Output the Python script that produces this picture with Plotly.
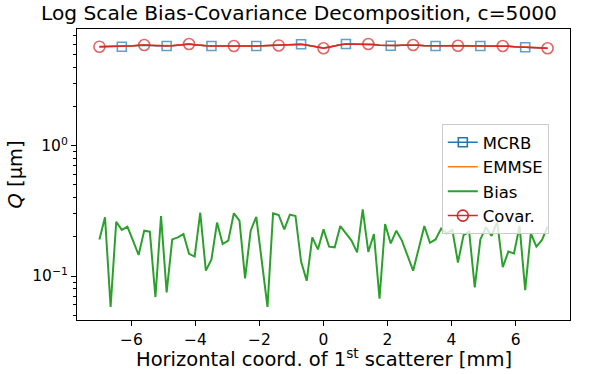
import numpy as np
import plotly.graph_objects as go

# horizontal coordinate of the first scatterer [mm]
x_mm = np.linspace(-7, 7, 81)

mcrb = [
    5.75, 5.76, 5.76, 5.76, 5.75, 5.78, 5.83, 5.88,
    5.92, 5.89, 5.85, 5.83, 5.82, 5.85, 5.90, 5.96,
    6.02, 5.96, 5.88, 5.84, 5.82, 5.83, 5.82, 5.82,
    5.82, 5.83, 5.82, 5.82, 5.82, 5.84, 5.86, 5.87,
    5.88, 5.91, 5.95, 5.98, 6.00, 5.93, 5.81, 5.69,
    5.61, 5.71, 5.85, 5.96, 6.03, 6.03, 6.02, 6.03,
    6.02, 5.97, 5.91, 5.87, 5.85, 5.86, 5.89, 5.91,
    5.92, 5.89, 5.85, 5.83, 5.82, 5.83, 5.84, 5.85,
    5.85, 5.84, 5.83, 5.82, 5.82, 5.83, 5.82, 5.82,
    5.81, 5.79, 5.75, 5.72, 5.69, 5.67, 5.64, 5.61,
    5.60,
]

emmse = [
    5.76, 5.77, 5.78, 5.77, 5.76, 5.79, 5.85, 5.89,
    5.92, 5.90, 5.86, 5.84, 5.83, 5.86, 5.91, 5.96,
    6.01, 5.95, 5.89, 5.85, 5.83, 5.84, 5.83, 5.83,
    5.83, 5.84, 5.83, 5.83, 5.83, 5.85, 5.87, 5.88,
    5.89, 5.92, 5.95, 5.98, 5.99, 5.91, 5.81, 5.70,
    5.62, 5.72, 5.86, 5.96, 6.02, 6.02, 6.01, 6.02,
    6.01, 5.96, 5.91, 5.88, 5.86, 5.87, 5.89, 5.91,
    5.92, 5.89, 5.86, 5.84, 5.83, 5.84, 5.85, 5.86,
    5.86, 5.85, 5.84, 5.83, 5.83, 5.84, 5.83, 5.83,
    5.82, 5.80, 5.76, 5.73, 5.70, 5.68, 5.65, 5.62,
    5.61,
]

bias = [
    0.191, 0.282, 0.058, 0.261, 0.226, 0.239, 0.187, 0.145, 0.223, 0.219,
    0.069, 0.289, 0.075, 0.191, 0.198, 0.210, 0.148, 0.141, 0.306, 0.110,
    0.134, 0.257, 0.176, 0.187, 0.303, 0.266, 0.096, 0.223, 0.285, 0.128,
    0.058, 0.303, 0.294, 0.228, 0.296, 0.289, 0.129, 0.092, 0.198, 0.160,
    0.228, 0.168, 0.166, 0.242, 0.213, 0.187, 0.152, 0.325, 0.153, 0.210,
    0.067, 0.251, 0.178, 0.223, 0.187, 0.143, 0.110, 0.163, 0.242, 0.180,
    0.191, 0.231, 0.213, 0.226, 0.127, 0.206, 0.219, 0.082, 0.191, 0.237,
    0.203, 0.260, 0.117, 0.154, 0.149, 0.242, 0.078, 0.213, 0.168, 0.189,
    0.239,
]

covar = [
    5.75, 5.76, 5.77, 5.76, 5.75, 5.78, 5.84, 5.89,
    5.93, 5.89, 5.85, 5.83, 5.82, 5.85, 5.90, 5.97,
    6.03, 5.96, 5.88, 5.84, 5.82, 5.83, 5.82, 5.82,
    5.82, 5.83, 5.82, 5.82, 5.82, 5.84, 5.86, 5.87,
    5.88, 5.91, 5.95, 5.98, 6.00, 5.92, 5.80, 5.68,
    5.59, 5.70, 5.85, 5.96, 6.03, 6.03, 6.02, 6.03,
    6.03, 5.97, 5.91, 5.87, 5.85, 5.86, 5.89, 5.91,
    5.93, 5.89, 5.85, 5.83, 5.82, 5.83, 5.84, 5.85,
    5.85, 5.84, 5.83, 5.82, 5.82, 5.83, 5.82, 5.82,
    5.82, 5.79, 5.75, 5.72, 5.69, 5.67, 5.64, 5.61,
    5.59,
]

FONT = "DejaVu Sans"
BLUE, ORANGE, GREEN, RED = "#1f77b4", "#ff7f0e", "#2ca02c", "#d62728"

# markevery=8 style: squares offset by 4, circles on every 8th point
idx = np.arange(len(x_mm))
sq_size = np.where(idx % 8 == 4, 9, 0)
ci_size = np.where(idx % 8 == 0, 11, 0)

fig = go.Figure()
fig.add_trace(go.Scatter(
    x=x_mm, y=mcrb, mode="lines+markers", showlegend=False,
    line=dict(color=BLUE, width=1.5),
    marker=dict(symbol="square-open", size=sq_size, color=BLUE, line=dict(width=1.6)),
))
fig.add_trace(go.Scatter(
    x=x_mm, y=emmse, mode="lines", showlegend=False,
    line=dict(color=ORANGE, width=1.5),
))
fig.add_trace(go.Scatter(
    x=x_mm, y=bias, mode="lines", showlegend=False,
    line=dict(color=GREEN, width=2),
))
fig.add_trace(go.Scatter(
    x=x_mm, y=covar, mode="lines+markers", showlegend=False,
    line=dict(color=RED, width=1.5),
    marker=dict(symbol="circle-open", size=ci_size, color=RED, line=dict(width=1.6)),
))

# legend entries (empty traces so the legend keeps fixed marker sizes)
legend_items = [
    ("MCRB", BLUE, "lines+markers", "square-open", 9),
    ("EMMSE", ORANGE, "lines", None, 0),
    ("Bias", GREEN, "lines", None, 0),
    ("Covar.", RED, "lines+markers", "circle-open", 11),
]
for name, col, mode, sym, size in legend_items:
    fig.add_trace(go.Scatter(
        x=[None], y=[None], name=name, mode=mode,
        line=dict(color=col, width=2 if name == "Bias" else 1.5),
        marker=dict(symbol=sym or "circle", size=size, color=col, line=dict(width=1.6)),
    ))

fig.update_layout(
    width=598, height=374,
    margin=dict(l=77, r=28, t=29, b=54, autoexpand=False),
    paper_bgcolor="white", plot_bgcolor="white",
    font=dict(family=FONT, size=15.5, color="black"),
    title=dict(
        text="Log Scale Bias-Covariance Decomposition, c=5000",
        font=dict(size=20.2), x=0.5, xref="container", xanchor="center",
        y=1 - 13 / 374, yref="container", yanchor="middle",
    ),
    showlegend=True,
    legend=dict(
        x=0.74, xanchor="left", y=0.6735, yanchor="top",
        bgcolor="rgba(255,255,255,0.8)", bordercolor="#cccccc", borderwidth=1,
        font=dict(size=16.5),
    ),
    annotations=[
        dict(text="Horizontal coord. of 1<sup>st</sup> scatterer [mm]",
             xref="paper", yref="paper", x=0.5, y=-(358 - 320) / 291,
             xanchor="center", yanchor="middle", showarrow=False,
             font=dict(size=19.5)),
        dict(text="<i>Q</i> [\u00b5m]", textangle=-90,
             xref="paper", yref="paper", x=-(77 - 15) / 493, y=0.5,
             xanchor="center", yanchor="middle", showarrow=False,
             font=dict(size=19.5)),
    ],
)
fig.update_xaxes(
    range=[-7.7, 7.7], tickvals=[-6, -4, -2, 0, 2, 4, 6], automargin=False,
    showline=True, linecolor="black", linewidth=1, mirror=True,
    ticks="outside", ticklen=5, tickcolor="black", showgrid=False, zeroline=False,
)
fig.update_yaxes(
    type="log", range=[np.log10(0.046), np.log10(7.86)], automargin=False,
    tickvals=[0.1, 1], ticktext=["10<sup>\u22121</sup>", "10<sup>0</sup>"],
    showline=True, linecolor="black", linewidth=1, mirror=True,
    ticks="outside", ticklen=5, tickcolor="black", showgrid=False, zeroline=False,
    minor=dict(
        ticks="outside", ticklen=3, tickcolor="black", showgrid=False,
        tickvals=[0.05, 0.06, 0.07, 0.08, 0.09, 0.2, 0.3, 0.4, 0.5, 0.6, 0.7, 0.8, 0.9,
                  2, 3, 4, 5, 6, 7],
    ),
)

# drop the browser's default body margin so the figure sits at the page origin
fig.write_html(
    "out.html",
    config={"displayModeBar": False},
    post_script="document.body.style.margin='0';",
)
